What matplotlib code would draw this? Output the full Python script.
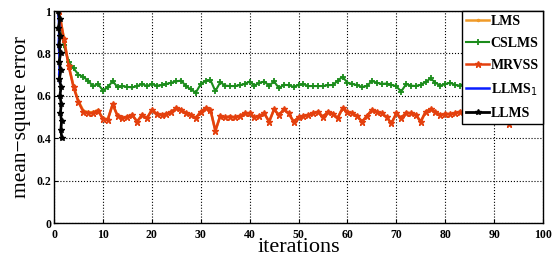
import matplotlib
matplotlib.use("Agg")
import matplotlib.pyplot as plt
import numpy as np

# iterations 1..100
iterations = list(range(1, 101))

cslms_mse = [
    1.00, 0.84, 0.76, 0.73, 0.70, 0.69, 0.67, 0.645, 0.656, 0.625,
    0.64, 0.67, 0.64, 0.646, 0.642, 0.64, 0.645, 0.656, 0.646, 0.655,
    0.648, 0.65, 0.656, 0.662, 0.668, 0.672, 0.645, 0.63, 0.615, 0.655,
    0.67, 0.674, 0.622, 0.664, 0.648, 0.646, 0.646, 0.65, 0.656, 0.667,
    0.648, 0.662, 0.667, 0.648, 0.668, 0.636, 0.652, 0.65, 0.642, 0.651,
    0.655, 0.646, 0.646, 0.646, 0.646, 0.65, 0.651, 0.67, 0.69, 0.662,
    0.656, 0.65, 0.642, 0.646, 0.67, 0.662, 0.656, 0.658, 0.652, 0.645,
    0.62, 0.655, 0.648, 0.646, 0.652, 0.665, 0.682, 0.662, 0.648, 0.655,
    0.662, 0.651, 0.648, 0.659, 0.652, 0.648, 0.655, 0.66, 0.65, 0.645,
    0.652, 0.658, 0.65, 0.648, 0.655, 0.66, 0.665, 0.672, 0.676, 0.68,
]

mrvss_mse = [
    1.00, 0.87, 0.74, 0.64, 0.57, 0.525, 0.517, 0.518, 0.53, 0.49,
    0.487, 0.56, 0.505, 0.494, 0.502, 0.51, 0.478, 0.51, 0.494, 0.533,
    0.515, 0.51, 0.515, 0.525, 0.541, 0.535, 0.517, 0.51, 0.495, 0.525,
    0.541, 0.533, 0.435, 0.505, 0.498, 0.502, 0.498, 0.505, 0.517, 0.517,
    0.498, 0.505, 0.517, 0.478, 0.536, 0.509, 0.536, 0.517, 0.478, 0.498,
    0.505, 0.509, 0.517, 0.525, 0.50, 0.525, 0.515, 0.495, 0.541, 0.525,
    0.517, 0.505, 0.478, 0.505, 0.533, 0.525, 0.517, 0.50, 0.47, 0.517,
    0.495, 0.52, 0.517, 0.51, 0.478, 0.525, 0.536, 0.525, 0.509, 0.515,
    0.513, 0.517, 0.525, 0.505, 0.51, 0.50, 0.515, 0.52, 0.505, 0.51,
    0.495, 0.48, 0.466, 0.49, 0.51, 0.52, 0.515, 0.53, 0.54, 0.55,
]

# LMS sits almost exactly under MRVSS, peeking out in the early iterations
lms_mse = [
    1.00, 0.875, 0.745, 0.645, 0.575, 0.53, 0.522, 0.523, 0.533, 0.493,
    0.49, 0.56, 0.505, 0.494, 0.502, 0.51, 0.478, 0.51, 0.494, 0.533,
    0.515, 0.51, 0.515, 0.525, 0.541, 0.535, 0.517, 0.51, 0.495, 0.525,
    0.541, 0.533, 0.435, 0.505, 0.498, 0.502, 0.498, 0.505, 0.517, 0.517,
    0.498, 0.505, 0.517, 0.478, 0.536, 0.509, 0.536, 0.517, 0.478, 0.498,
    0.505, 0.509, 0.517, 0.525, 0.50, 0.525, 0.515, 0.495, 0.541, 0.525,
    0.517, 0.505, 0.478, 0.505, 0.533, 0.525, 0.517, 0.50, 0.47, 0.517,
    0.495, 0.52, 0.517, 0.51, 0.478, 0.525, 0.536, 0.525, 0.509, 0.515,
    0.513, 0.517, 0.525, 0.505, 0.51, 0.50, 0.515, 0.52, 0.505, 0.51,
    0.495, 0.48, 0.466, 0.49, 0.51, 0.52, 0.515, 0.53, 0.54, 0.55,
]

# LLMS curves collapse into a near-vertical streak around iteration 1
llms_x = [0.8, 1.2, 0.9, 1.3, 1.0, 1.35, 1.05, 1.4, 1.1, 1.45, 1.2, 1.5, 1.3, 1.55, 1.4, 1.6]
llms_y = [1.0, 0.96, 0.92, 0.88, 0.84, 0.80, 0.76, 0.72, 0.68, 0.64, 0.60, 0.56, 0.52, 0.48, 0.44, 0.40]

llms1_x = [0.85, 1.1, 0.95, 1.2, 1.05, 1.2]
llms1_y = [1.0, 0.92, 0.84, 0.76, 0.70, 0.665]

C_LMS = "#f09a28"
C_CSLMS = "#1b8c1b"
C_MRVSS = "#e4400e"
C_LLMS1 = "#0a1eff"
C_LLMS = "#000000"

plt.rcParams["font.family"] = ["Liberation Serif", "DejaVu Serif"]

fig = plt.figure(figsize=(5.54, 2.63), dpi=100)
ax = fig.add_axes([54 / 554, 40 / 263, 489 / 554, 212 / 263])

ax.plot(iterations, lms_mse, color=C_LMS, lw=1.8, marker=".", ms=3, label="LMS")
ax.plot(iterations, cslms_mse, color=C_CSLMS, lw=1.5, marker="+", ms=4, mew=1.3, label="CSLMS")
ax.plot(iterations, mrvss_mse, color=C_MRVSS, lw=1.8, marker="*", ms=4.5, label="MRVSS")
ax.plot(llms1_x, llms1_y, color=C_LLMS1, lw=1.8, label="LLMS$_1$")
ax.plot(llms_x, llms_y, color=C_LLMS, lw=2.0, marker="*", ms=4, label="LLMS")

ax.set_xlim(0, 100)
ax.set_ylim(0, 1)
ax.set_xticks(np.arange(0, 101, 10))
ax.set_yticks([0, 0.2, 0.4, 0.6, 0.8, 1])
ax.set_yticklabels(["0", "0.2", "0.4", "0.6", "0.8", "1"])
ax.grid(True, color="black", linestyle=":", linewidth=0.8)
ax.tick_params(direction="in", length=3, width=0.8, labelsize=8.5)
ax.tick_params(axis="x", pad=4)
ax.tick_params(axis="y", pad=2)
for lbl in ax.get_xticklabels() + ax.get_yticklabels():
    lbl.set_fontweight("bold")
for sp in ax.spines.values():
    sp.set_linewidth(1.0)

ax.set_xlabel("iterations", fontsize=16, labelpad=-2)
ax.set_ylabel("mean\u2212square error", fontsize=15.5, labelpad=4)

leg = ax.legend(loc="upper right", borderaxespad=0, fancybox=False, framealpha=1,
                edgecolor="black", handlelength=1.6, handletextpad=0.15,
                borderpad=0.3, labelspacing=0.65, prop={"weight": "bold", "size": 10})
leg.get_frame().set_linewidth(1.0)

fig.savefig("out.png", dpi=100)
